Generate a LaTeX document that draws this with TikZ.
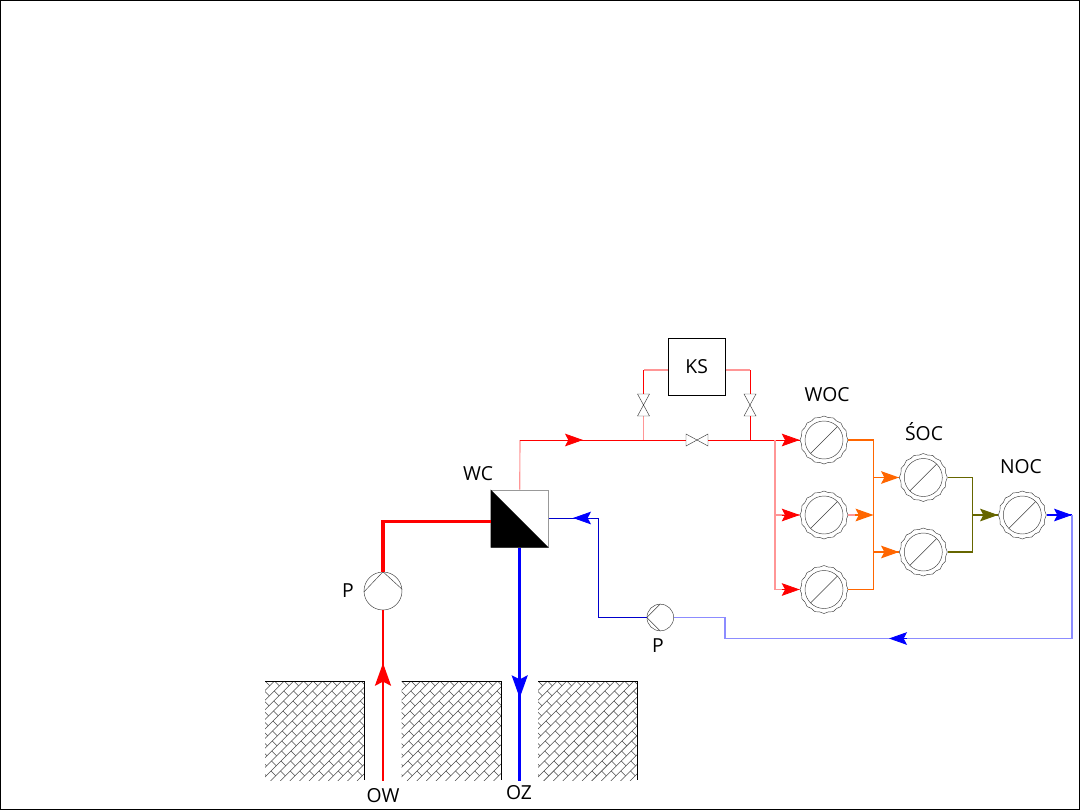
\documentclass[tikz,border=0pt]{standalone}
\usepackage{fontspec}
\setmainfont{Open Sans}
\usetikzlibrary{arrows.meta}

\definecolor{palered}{RGB}{255,150,150}
\definecolor{paleblue}{RGB}{140,140,255}
\definecolor{darkorange}{RGB}{255,102,0}
\definecolor{darkolive}{RGB}{102,102,0}

\tikzset{
  label/.style={font=\fontsize{14.5}{16}\selectfont,inner sep=0pt},
  thinline/.style={line width=0.35pt,draw=black!75},
  redline/.style={draw=red,line width=0.75pt},
  paleline/.style={draw=palered,line width=0.85pt},
  blueline/.style={draw=blue!80!black,line width=0.55pt},
  bluepale/.style={draw=paleblue,line width=0.9pt},
  orangeline/.style={draw=darkorange,line width=0.8pt},
  oliveline/.style={draw=darkolive,line width=0.8pt},
  flow/.style={-{Stealth[length=13.5pt,width=9.5pt,inset=2.5pt]}},
  bigflow/.style={-{Stealth[length=17pt,width=12pt,inset=3pt]}},
  exch/.style={circle,minimum size=36pt,inner sep=0pt},
  pump/.style={circle,draw=black!75,line width=0.35pt,inner sep=0pt},
  brick/.style={line width=0.4pt,draw=black!70}
}

% exchanger: name, x, y
\newcommand{\exchanger}[3]{
  \node[exch] (#1) at (#2,#3) {};
  \draw[thinline] (#1) circle (19);
  \draw[thinline] (#2-13.4,#3+13.4) -- (#2+13.4,#3-13.4);
  \draw[thinline] plot[samples at={0,1,...,32},variable=\k]
    ({#2+(24-1.2*mod(\k,2))*cos(\k*11.25)},{#3+(24-1.2*mod(\k,2))*sin(\k*11.25)});
}

\begin{document}
\begin{tikzpicture}[x=0.75pt,y=-0.75pt]
  \useasboundingbox (0,0) rectangle (1080,810);
  \draw[line width=1pt] (0.5,0.5) rectangle (1079.5,809.5);

  % ground blocks with brick hatching
  \foreach \bx in {265,401.5,538} {
    \begin{scope}
      \clip (\bx,681) rectangle ++(99.5,99);
      \foreach \k in {0,...,22} {
        \draw[brick] ({\bx+9.6*\k-100},781) -- ++(110,-110);
        \foreach \j in {-1,...,11}
          \draw[brick]
            ({\bx+9.6*\k-100+\j*10},{781-\j*10}) -- ++(4.8,4.8);
      }
    \end{scope}
    \draw[line width=0.5pt] (\bx,681) -- ++(99.5,0) -- ++(0,99);
  }

  % equipment
  \node[draw,line width=0.4pt,minimum size=43pt,inner sep=0pt,font=\fontsize{14.5}{16}\selectfont] (ks) at (696.7,366.5) {KS};
  \node[draw=black!40,line width=0.5pt,minimum size=43pt,inner sep=0pt] (wc) at (519.7,518.5) {};
  \fill (wc.north west) -- (wc.south east) -- (wc.south west) -- cycle;

  \exchanger{woca}{824}{440}
  \exchanger{wocb}{824}{515}
  \exchanger{wocc}{824}{589.5}
  \exchanger{soca}{923.3}{477.5}
  \exchanger{socb}{923.3}{552}
  \exchanger{noc}{1022.3}{515}

  \node[pump,minimum size=28.5pt] (pumpa) at (383,591) {};
  \draw[thinline] (pumpa.183) -- (pumpa.90) -- (pumpa.5);
  \node[pump,minimum size=20pt] (pumpb) at (660.3,617.5) {};
  \draw[thinline] (pumpb.90) -- (pumpb.180) -- (pumpb.270);

  % valves and junctions
  \coordinate (vala top) at (643.5,394);
  \coordinate (vala bot) at (643.5,416);
  \coordinate (valb top) at (750,394);
  \coordinate (valb bot) at (750,416);
  \coordinate (valc lft) at (686,440);
  \coordinate (valc rgt) at (708,440);
  \coordinate (tee) at (520,440);
  \coordinate (jun a) at (643.5,440);
  \coordinate (jun b) at (750,440);
  \coordinate (jun c) at (775,440);
  \coordinate (ks a) at (643.5,370);
  \coordinate (ks b) at (750,370);

  \draw[paleline] (wc.north) -- (tee);
  \draw[redline] (tee) -- (valc lft);
  \draw[redline] (valc rgt) -- (woca.west);
  \draw[paleline] (ks.west |- ks a) -- (ks a);
  \draw[redline] (ks a) -- (vala top);
  \draw[paleline] (vala bot) -- (jun a);
  \draw[paleline] (ks.east |- ks b) -- (ks b);
  \draw[redline] (ks b) -- (valb top);
  \draw[redline] (valb bot) -- (jun b);
  \draw[thinline] (vala top) ++(-6,0) -- ++(12,0) -- ++(-12,22) -- ++(12,0) -- cycle;
  \draw[thinline] (valb top) ++(-6,0) -- ++(12,0) -- ++(-12,22) -- ++(12,0) -- cycle;
  \draw[thinline] (valc lft) ++(0,-6) -- ++(0,12) -- ++(22,-12) -- ++(0,12) -- cycle;

  % supply branches
  \draw[paleline] (jun c) |- (wocb.west);
  \draw[paleline] (jun c) |- (wocc.west);
  \foreach \n in {woca,wocb,wocc}
    \draw[draw=red,line width=0.6pt,flow] (\n.west) ++(-18,0) -- (\n.west);
  \draw[draw=red,line width=0.6pt,flow] (565,440) -- (583,440);

  % cascade
  \draw[orangeline] (woca.east) -| (873.5,589.5) -- (wocc.east);
  \draw[paleline] (wocb.east) -- (856,515);
  \draw[orangeline,flow] (855,515) -- (873.5,515);
  \draw[orangeline] (873.5,477.5) -- (soca.west);
  \draw[orangeline] (873.5,552) -- (socb.west);
  \draw[orangeline,flow] (881,477.5) -- (soca.west);
  \draw[orangeline,flow] (881,552) -- (socb.west);
  \draw[oliveline] (soca.east) -| (972.5,552) -- (socb.east);
  \draw[oliveline] (972.5,515) -- (noc.west);
  \draw[oliveline,flow] (980,515) -- (noc.west);

  % return line
  \draw[draw=blue,line width=0.8pt] (noc.east) -- (1072,515);
  \draw[draw=blue,line width=0.8pt,flow] (1054,515) -- (1072,515);
  \draw[bluepale] (1072,515) |- (725,638.5) |- (pumpb.east);
  \draw[draw=blue,line width=0.6pt,flow] (907,638.5) -- (889,638.5);
  \draw[blueline] (pumpb.west) -| (598,518) -- (wc.east |- 0,518);
  \draw[draw=blue,line width=0.6pt,flow] (591,518) -- (573,518);

  % well lines
  \draw[draw=red,line width=2.5pt] (pumpa.north) |- (wc.west |- 0,521.5);
  \draw[draw=red,line width=2pt] (pumpa.south) -- (383,781);
  \draw[draw=red,line width=1.6pt,bigflow] (383,690) -- (383,663);
  \draw[draw=blue,line width=2.4pt] (wc.south) -- (519.7,781);
  \draw[draw=blue,line width=1.6pt,bigflow] (519.7,675) -- (519.7,698);

  % labels
  \node[label] (labwoc) at (827,395) {WOC};
  \node[label] (labsoc) at (924,432) {ŚOC};
  \node[label] (labnoc) at (1021,467) {NOC};
  \node[label] (labwc) at (478,474) {WC};
  \node[label] (labpa) at (348,591) {P};
  \node[label] (labpb) at (658,646) {P};
  \node[label] (labow) at (383,796) {OW};
  \node[label] (laboz) at (519,793) {OZ};
\end{tikzpicture}
\end{document}
